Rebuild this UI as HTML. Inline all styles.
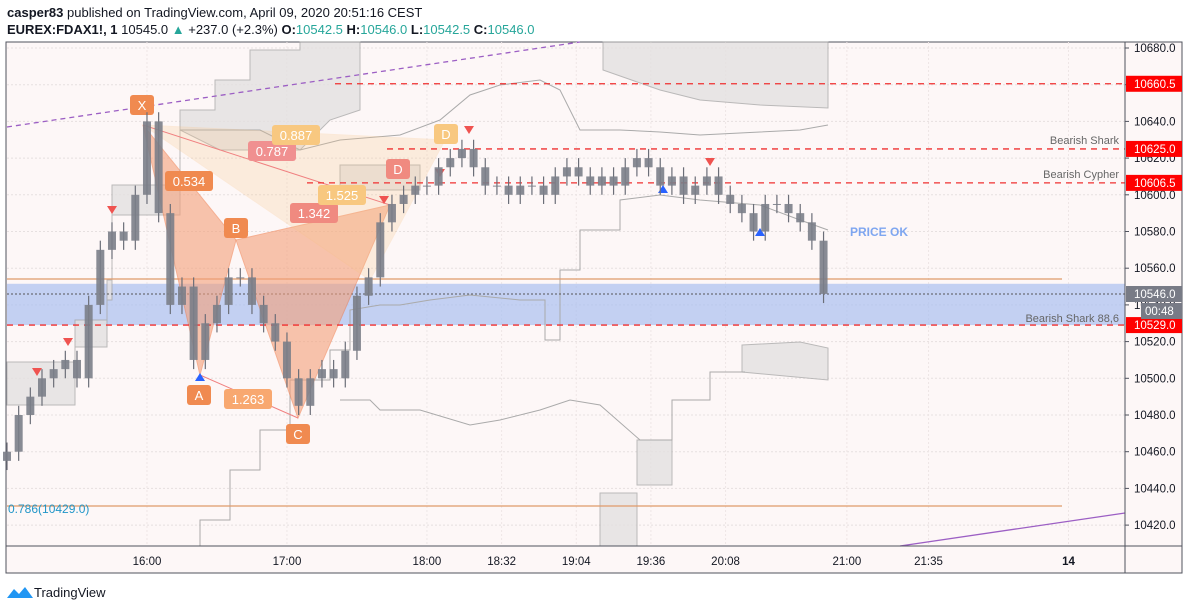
<!DOCTYPE html>
<html><head><meta charset="utf-8"><style>
body{margin:0;background:#fff;font-family:"Liberation Sans",sans-serif;}
svg text{font-family:"Liberation Sans",sans-serif;}
</style></head><body>
<svg id="c" width="1188" height="610" viewBox="0 0 1188 610">
<rect x="0" y="0" width="1188" height="610" fill="#fff"/>
<text x="7" y="17" font-size="13" fill="#131722"><tspan font-weight="bold">casper83</tspan> published on TradingView.com, April 09, 2020 20:51:16 CEST</text>
<text x="7" y="34" font-size="13" fill="#131722"><tspan font-weight="bold">EUREX:FDAX1!, 1</tspan>  10545.0 <tspan fill="#26a69a">▲</tspan> +237.0 (+2.3%) <tspan font-weight="bold">O:</tspan><tspan fill="#26a69a">10542.5</tspan> <tspan font-weight="bold">H:</tspan><tspan fill="#26a69a">10546.0</tspan> <tspan font-weight="bold">L:</tspan><tspan fill="#26a69a">10542.5</tspan> <tspan font-weight="bold">C:</tspan><tspan fill="#26a69a">10546.0</tspan></text>
<rect x="6" y="42" width="1176" height="531" fill="#fdf7f7" stroke="#50535e"/>
<g id="grid"></g>
<g id="over"></g>
<g id="candles"></g>
<g id="axis"></g>
<g transform="translate(7,584)">
<path d="M0 14 L7 5 L12 10 L18 3 L26 14 Z" fill="#2196f3"/>
<text x="27" y="13" font-size="13" fill="#131722">TradingView</text></g>
</svg>
<script>
// data
const priceTicks=[10680,10660,10640,10620,10600,10580,10560,10540,10520,10500,10480,10460,10440,10420];
const timeLabels=["16:00","17:00","18:00","18:32","19:04","19:36","20:08","21:00","21:35","14"];
const timeMins=[60,120,180,212,244,276,308,360,395,455];
const closes=[10460,10480,10490,10500,10505,10510,10500,10540,10570,10580,10575,10600,10640,10590,10540,10550,10510,10530,10540,10555,10555,10540,10530,10520,10500,10485,10500,10505,10500,10515,10545,10555,10585,10595,10600,10605,10605,10615,10620,10625,10615,10605,10605,10600,10605,10605,10600,10610,10615,10610,10605,10610,10605,10615,10620,10615,10605,10610,10600,10605,10610,10600,10595,10590,10580,10595,10595,10590,10585,10575,10546];
const levels=[10660.5,10625.0,10606.5,10529.0];
const levelStart=[335,387,307,7];
// scales
const X0=7,PX=2.333,Y0=48,PY=1.835;
const xs=m=>X0+m*PX;
const ys=p=>Y0+(10680-p)*PY;
const NS="http://www.w3.org/2000/svg";
function mk(t,a,p){const e=document.createElementNS(NS,t);for(const k in a)e.setAttribute(k,a[k]);(p||document.getElementById('over')).appendChild(e);return e;}
const grid=document.getElementById('grid'),axis=document.getElementById('axis'),cg=document.getElementById('candles');
priceTicks.forEach(p=>{
 const l=mk('line',{x1:7,x2:1125,y1:ys(p),y2:ys(p),stroke:'#e6e0e0','stroke-dasharray':'2,2'},grid);
 
 const t=mk('text',{x:1134,y:ys(p)+4,'font-size':11.5,fill:'#131722'},axis);t.textContent=p.toFixed(1);
 
 mk('line',{x1:1125,x2:1129,y1:ys(p),y2:ys(p),stroke:'#50535e'},axis);
});
timeMins.forEach((m,i)=>{
 const l=mk('line',{x1:xs(m),x2:xs(m),y1:42,y2:546,stroke:'#eee6e6','stroke-dasharray':'2,2'},grid);
 
 const t=mk('text',{x:xs(m),y:565,'font-size':11.5,fill:'#131722','text-anchor':'middle','font-weight':i==9?'bold':'normal'},axis);t.textContent=timeLabels[i];
 
});
mk('line',{x1:1125,x2:1125,y1:42,y2:573,stroke:'#50535e'},axis);
mk('line',{x1:6,x2:1182,y1:546,y2:546,stroke:'#50535e'},axis);
// blue zone
let z=mk('rect',{x:7,y:ys(10551.5),width:1118,height:ys(10529)-ys(10551.5),fill:'#aabff0',opacity:0.7});
// gray regions
['7,362 75,362 75,320 107,320 107,280 112,280 112,185 180,185 180,130 180,215 112,215 112,300 107,300 107,347 75,347 75,405 7,405',
 '180,110 215,110 215,80 250,80 250,50 300,50 300,42 360,42 360,110 330,120 300,150 260,150 220,150 180,130',
 '603,42 828,42 828,108 760,105 700,100 660,90 603,70',
 '742,345 800,342 828,348 828,380 742,372',
 '637,440 672,440 672,485 637,485','600,493 637,493 637,546 600,546','340,165 420,165 420,190 340,190'].forEach(pp=>{
 const r=mk('polygon',{points:pp,fill:'#e4e1e1',stroke:'#aaa',opacity:0.8});});
// gray step lines
let s=mk('polyline',{points:'200,546 200,520 230,520 230,470 260,470 260,430 290,430 290,380 330,380 330,350 350,350 350,310 380,305 400,305 430,300 470,295 520,300 545,300 545,340 560,340 560,270 580,270 580,230 620,230 620,200 660,195 700,200 760,205 800,220 828,230',fill:'none',stroke:'#aaa'});
s=mk('polyline',{points:'340,400 370,400 380,410 420,410 470,425 500,420 540,410 570,400 600,405 640,440 672,440 672,400 710,400 710,372 745,372',fill:'none',stroke:'#aaa'});
s=mk('polyline',{points:'180,130 260,130 300,150 340,140 400,135 440,120 470,95 500,85 540,80 560,90 580,130 620,130 660,132 700,135 760,132 800,130 828,125',fill:'none',stroke:'#aaa'});
// lines
s=mk('line',{x1:7,y1:127,x2:580,y2:42,stroke:'#9c5fc4','stroke-dasharray':'5,4','stroke-width':1.3});
s=mk('line',{x1:900,y1:546,x2:1125,y2:513,stroke:'#9c5fc4','stroke-width':1.3});
s=mk('line',{x1:7,y1:279,x2:1062,y2:279,stroke:'#e09a6a','stroke-width':1.3});
s=mk('line',{x1:7,y1:506,x2:1062,y2:506,stroke:'#e09a6a','stroke-width':1.3});
s=mk('text',{x:8,y:513,'font-size':12,fill:'#2196c8'});s.textContent='0.786(10429.0)';
s=mk('line',{x1:7,y1:294,x2:1125,y2:294,stroke:'#555','stroke-dasharray':'2,2'});
// harmonic
const P={X:[143,125],A:[200,375],B:[236,240],C:[298,418],D:[390,205]};
const pt=k=>P[k].join(',');
s=mk('polygon',{points:[pt('X'),pt('A'),pt('B')].join(' '),fill:'#f4a07a',opacity:0.6,stroke:'#f08050'});
s=mk('polygon',{points:[pt('B'),pt('C'),pt('D')].join(' '),fill:'#f4a07a',opacity:0.6,stroke:'#f08050'});
s=mk('polygon',{points:'143,125 445,140 370,280',fill:'#f8c890',opacity:0.25,stroke:'#f8c080'});
s=mk('line',{x1:143,y1:125,x2:390,y2:205,stroke:'#f08080'});
s=mk('line',{x1:200,y1:375,x2:298,y2:418,stroke:'#f08080'});
[['X',142,105,'#f08a50'],['A',199,395,'#f08a50'],['B',236,228,'#f08a50'],['C',298,434,'#f08a50'],['D',398,169,'#f08a80'],['D',446,134,'#f8c880']].forEach(l=>{
 const r=mk('rect',{x:l[1]-12,y:l[2]-10,width:24,height:20,rx:3,fill:l[3]});
 const t=mk('text',{x:l[1],y:l[2]+5,'font-size':13,fill:'#fff','text-anchor':'middle'});t.textContent=l[0];});
[['0.534',189,181,'#f08a50'],['0.787',272,151,'#f09090'],['0.887',296,135,'#f8c880'],['1.342',314,213,'#f08a80'],['1.525',342,195,'#f8c880'],['1.263',248,399,'#f8a870']].forEach(l=>{
 const r=mk('rect',{x:l[1]-24,y:l[2]-10,width:48,height:20,rx:3,fill:l[3]});
 const t=mk('text',{x:l[1],y:l[2]+5,'font-size':13,fill:'#fff','text-anchor':'middle'});t.textContent=l[0];});
// level lines
levels.forEach((p,i)=>{
 const l=mk('line',{x1:levelStart[i],x2:1125,y1:ys(p),y2:ys(p),stroke:'#f03030','stroke-dasharray':'6,5','stroke-width':1.3});
 
 const r=mk('rect',{x:1126,y:ys(p)-8,width:56,height:16,fill:'#f00'},axis);
 const t=mk('text',{x:1134,y:ys(p)+4,'font-size':11.5,fill:'#fff'},axis);t.textContent=p.toFixed(1);
});
let r=mk('rect',{x:1126,y:286,width:56,height:16,fill:'#787b86'},axis);
let t=mk('text',{x:1134,y:298,'font-size':11.5,fill:'#fff'},axis);t.textContent='10546.0';
r=mk('rect',{x:1141,y:303,width:41,height:16,fill:'#787b86'},axis);
t=mk('text',{x:1145,y:315,'font-size':11.5,fill:'#fff'},axis);t.textContent='00:48';
[['Bearish Shark',1119,144],['Bearish Cypher',1119,178],['Bearish Shark 88,6',1119,322]].forEach(l=>{
 const e=mk('text',{x:l[1],y:l[2],'font-size':11,fill:'#666','text-anchor':'end'});e.textContent=l[0];});
t=mk('text',{x:850,y:236,'font-size':12,fill:'#7ea6f0','font-weight':'bold'});t.textContent='PRICE OK';
// markers
[[37,372,'d'],[68,342,'d'],[112,210,'d'],[384,200,'d'],[440,173,'d'],[469,130,'d'],[710,162,'d'],[200,377,'u'],[663,189,'u'],[760,232,'u']].forEach(m=>{
 const pth=m[2]=='d'?`M${m[0]-5},${m[1]-4} L${m[0]+5},${m[1]-4} L${m[0]},${m[1]+4}Z`:`M${m[0]-5},${m[1]+4} L${m[0]+5},${m[1]+4} L${m[0]},${m[1]-4}Z`;
 const e=mk('path',{d:pth,fill:m[2]=='d'?'#ef5350':'#2962ff'});});
// candles
closes.forEach((c,i)=>{
 const op=i?closes[i-1]:c-5, x=xs(i*5);
 const hi=Math.max(op,c)+5, lo=Math.min(op,c)-5;
 const w=mk('line',{x1:x,x2:x,y1:ys(hi),y2:ys(lo),stroke:'#6b6e78','stroke-width':1.2},cg);
 
 const b=mk('rect',{x:x-4,y:ys(Math.max(op,c)),width:8,height:Math.max(1,Math.abs(ys(op)-ys(c))),fill:'#7b7e88',opacity:0.9},cg);
 
});
</script>
</body></html>
